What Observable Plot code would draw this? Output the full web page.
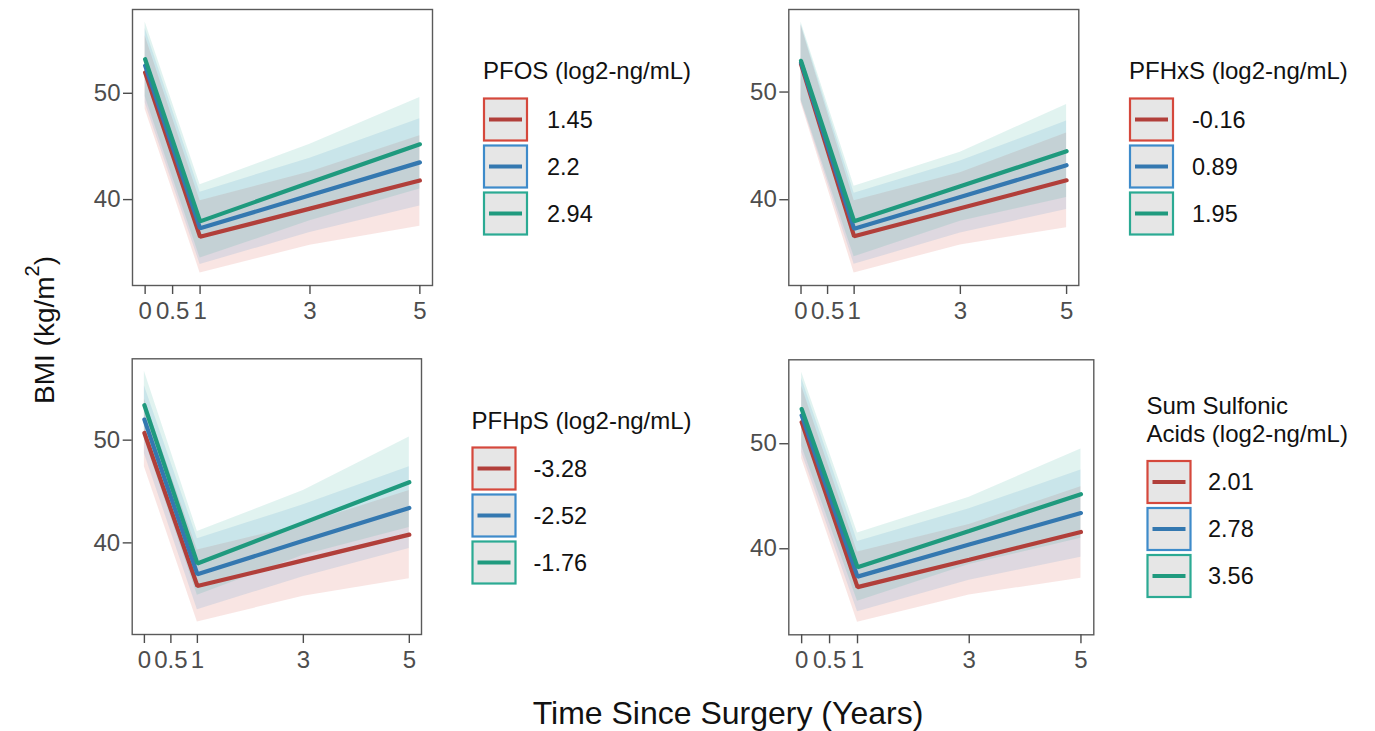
<!DOCTYPE html>
<html><head><meta charset="utf-8">
<script src="https://cdn.jsdelivr.net/npm/d3@7"></script>
<script src="https://cdn.jsdelivr.net/npm/@observablehq/plot@0.6"></script>
<style>
body{margin:0;background:#fff;font-family:"Liberation Sans",Arial,sans-serif;}
#root{position:relative;width:1375px;height:731px;overflow:hidden;background:#fff;}
#root > div.panel{position:absolute;}
#overlay{position:absolute;left:0;top:0;}
</style></head><body><div id="root"></div>
<script>
// ---------- data ----------
const times = [0, 1, 3, 5];
const xTicks = [0, 0.5, 1, 3, 5];
const yTicks = [40, 50];
const lineColors = ["#B13F3A", "#3478B0", "#1F9A7E"];
const fillColors = ["#D5483C", "#3E8BCA", "#2BAA93"];

const legendTitles = ["PFOS (log2-ng/mL)", "PFHxS (log2-ng/mL)", "PFHpS (log2-ng/mL)", "Sum Sulfonic\nAcids (log2-ng/mL)"];
const pfosLevels = ["1.45", "2.2", "2.94"];
const pfhxsLevels = ["-0.16", "0.89", "1.95"];
const pfhpsLevels = ["-3.28", "-2.52", "-1.76"];
const sumLevels = ["2.01", "2.78", "3.56"];

// fitted BMI per level (rows) at times 0,1,3,5
const pfosFit  = [[51.95, 36.5, 39.15, 41.8], [52.6, 37.3, 40.4, 43.5], [53.2, 37.95, 41.6, 45.2]];
const pfosLow  = [[48.5, 33.1, 35.7, 37.5], [49.1, 33.9, 36.9, 39.4], [49.7, 34.5, 38.0, 41.0]];
const pfosHigh = [[55.4, 39.9, 42.6, 46.0], [56.1, 40.7, 43.9, 47.6], [56.7, 41.4, 45.2, 49.6]];

const pfhxsFit  = [[52.6, 36.6, 39.2, 41.8], [52.75, 37.3, 40.25, 43.2], [52.9, 38.0, 41.25, 44.5]];
const pfhxsLow  = [[49.0, 33.2, 35.8, 37.4], [49.2, 34.0, 36.9, 39.1], [49.3, 34.7, 38.0, 40.2]];
const pfhxsHigh = [[56.2, 39.9, 42.5, 46.2], [56.3, 40.6, 43.6, 47.3], [56.5, 41.25, 44.4, 48.85]];

const pfhpsFit  = [[50.7, 35.8, 38.3, 40.8], [52.0, 36.95, 40.2, 43.4], [53.4, 38.0, 41.95, 45.9]];
const pfhpsLow  = [[47.4, 32.3, 34.8, 36.5], [48.7, 33.5, 36.7, 39.45], [50.1, 34.9, 38.8, 41.5]];
const pfhpsHigh = [[54.0, 39.3, 41.8, 45.1], [55.3, 40.4, 43.7, 47.4], [56.7, 41.1, 45.1, 50.3]];

const sumFit  = [[52.05, 36.35, 38.95, 41.6], [52.7, 37.35, 40.4, 43.4], [53.3, 38.25, 41.7, 45.2]];
const sumLow  = [[48.6, 33.0, 35.6, 37.2], [49.2, 34.0, 37.0, 39.2], [49.8, 35.0, 38.5, 41.0]];
const sumHigh = [[55.5, 39.7, 42.3, 45.9], [56.2, 40.7, 43.8, 47.5], [56.8, 41.5, 44.9, 49.5]];

const xTitle = "Time Since Surgery (Years)";

// ---------- layout ----------
const panels = [
  {fit: pfosFit, low: pfosLow, high: pfosHigh, levels: pfosLevels, title: legendTitles[0],
   left: 0, top: 0, width: 440, height: 335, ml: 132, mr: 8, mt: 9, mb: 50,
   leg: {x: 483, titleY: [70], boxTop: 97.5, labelX: 547}},
  {fit: pfhxsFit, low: pfhxsLow, high: pfhxsHigh, levels: pfhxsLevels, title: legendTitles[1],
   left: 655, top: 0, width: 430, height: 335, ml: 133.3, mr: 6.7, mt: 9, mb: 50,
   leg: {x: 1129, titleY: [70.5], boxTop: 97.5, labelX: 1192}},
  {fit: pfhpsFit, low: pfhpsLow, high: pfhpsHigh, levels: pfhpsLevels, title: legendTitles[2],
   left: 0, top: 345, width: 430, height: 345, ml: 131.7, mr: 9, mt: 13.3, mb: 56,
   leg: {x: 471.5, titleY: [420], boxTop: 446.5, labelX: 533.5}},
  {fit: sumFit, low: sumLow, high: sumHigh, levels: sumLevels, title: legendTitles[3],
   left: 655, top: 345, width: 445, height: 345, ml: 133.3, mr: 6.7, mt: 14.3, mb: 55.7,
   leg: {x: 1146.5, titleY: [405, 433], boxTop: 460, labelX: 1208}}
];

const root = document.getElementById("root");
const FONT = "Liberation Sans, Arial, sans-serif";

for (const p of panels) {
  const rows = [];
  p.fit.forEach((series, k) => series.forEach((v, i) =>
    rows.push({k, t: times[i], fit: v, low: p.low[k][i], high: p.high[k][i]})));
  const lo = d3.min(rows, d => d.low), hi = d3.max(rows, d => d.high);
  const pad = (hi - lo) * 0.05;
  const marks = [];
  for (let k = 0; k < 3; k++)
    marks.push(Plot.areaY(rows.filter(d => d.k === k), {x: "t", y1: "low", y2: "high", fill: fillColors[k], fillOpacity: 0.14}));
  for (let k = 0; k < 3; k++)
    marks.push(Plot.lineY(rows.filter(d => d.k === k), {x: "t", y: "fit", stroke: lineColors[k], strokeWidth: 4.2, strokeLinejoin: "miter"}));
  marks.push(Plot.frame({stroke: "#5a5a5a", strokeWidth: 1.4}));
  marks.push(Plot.axisX({ticks: xTicks, tickSize: 9, tickPadding: 7, tickFormat: d => String(d), strokeWidth: 1.4, label: null, fontSize: 24, fontFamily: FONT}));
  marks.push(Plot.axisY({ticks: yTicks, tickSize: 9, tickPadding: 3, tickFormat: d => String(d), strokeWidth: 1.4, label: null, fontSize: 24, fontFamily: FONT}));
  const chart = Plot.plot({
    width: p.width, height: p.height,
    marginLeft: p.ml, marginRight: p.mr, marginTop: p.mt, marginBottom: p.mb,
    x: {domain: [-0.23, 5.23], label: null},
    y: {domain: [lo - pad, hi + pad], label: null},
    style: {fontSize: "24px", fontFamily: FONT, color: "#4d4d4d", background: "transparent", overflow: "visible"},
    marks
  });
  const wrap = document.createElement("div");
  wrap.className = "panel";
  wrap.style.left = p.left + "px";
  wrap.style.top = p.top + "px";
  wrap.appendChild(chart);
  root.appendChild(wrap);
}

// ---------- overlay: legends and axis titles ----------
const svg = d3.select(root).append("svg").attr("id", "overlay")
  .attr("width", 1375).attr("height", 731)
  .style("font-family", FONT);

for (const p of panels) {
  const L = p.leg;
  const g = svg.append("g");
  p.title.split("\n").forEach((line, i) => {
    g.append("text").attr("x", L.x).attr("y", L.titleY[i])
      .attr("dominant-baseline", "central").attr("font-size", 24).attr("fill", "#111").text(line);
  });
  p.levels.forEach((lab, k) => {
    const y = L.boxTop + k * 47;
    g.append("rect").attr("x", L.x + 1).attr("y", y + 1).attr("width", 43).attr("height", 42)
      .attr("fill", "#e6e6e6").attr("stroke", fillColors[k]).attr("stroke-width", 2.2);
    g.append("line").attr("x1", L.x + 6).attr("x2", L.x + 39).attr("y1", y + 22).attr("y2", y + 22)
      .attr("stroke", lineColors[k]).attr("stroke-width", 4);
    g.append("text").attr("x", L.labelX).attr("y", y + 22)
      .attr("dominant-baseline", "central").attr("font-size", 23.5).attr("fill", "#111").text(lab);
  });
}

svg.append("text").attr("x", 728).attr("y", 713).attr("text-anchor", "middle")
  .attr("dominant-baseline", "central").attr("font-size", 32).attr("fill", "#111").text(xTitle);

const yt = svg.append("text").attr("transform", "translate(44,330) rotate(-90)")
  .attr("text-anchor", "middle").attr("dominant-baseline", "central")
  .attr("font-size", 28).attr("fill", "#111");
yt.append("tspan").text("BMI (kg/m");
yt.append("tspan").attr("dy", -12).attr("font-size", 20).text("2");
yt.append("tspan").attr("dy", 12).text(")");
</script>
</body></html>
